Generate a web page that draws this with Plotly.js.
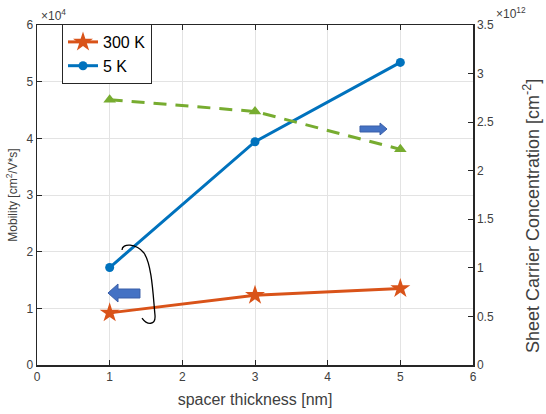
<!DOCTYPE html>
<html><head><meta charset="utf-8">
<script src="https://cdn.plot.ly/plotly-3.0.1.min.js"></script>
<style>html,body{margin:0;padding:0;background:#fff}#chart{width:546px;height:414px}</style>
</head><body><div id="chart"></div>
<script>
const thickness = [1, 3, 5];
const mobility300K = [9200, 12300, 13500];
const mobility5K = [17200, 39400, 53400];
const sheetConc = [2.73e12, 2.61e12, 2.22e12];
const leftTicks = [0, 1, 2, 3, 4, 5, 6];
const rightTicks = [0, 0.5, 1, 1.5, 2, 2.5, 3, 3.5];
const xTicks = [0, 1, 2, 3, 4, 5, 6];

const L = 37, R = 473, T = 25, B = 365;
function px(x){ return (x - L) / (R - L); }
function py(y){ return (B - y) / (B - T); }
function P(x, y){ return px(x).toFixed(4) + ',' + py(y).toFixed(4); }

const txt = '#404040';
const font = {family: 'Liberation Sans, Arial, sans-serif', size: 12, color: txt};

const traces = [
  {x: thickness, y: sheetConc, yaxis: 'y2', mode: 'lines+markers', showlegend: false,
   line: {color: '#77AC30', width: 3, dash: '13px,9px'},
   marker: {symbol: 'triangle-up', size: 11, color: '#77AC30'}},
  {x: thickness, y: mobility300K, name: '300 K', mode: 'lines+markers',
   line: {color: '#D95319', width: 3},
   marker: {symbol: 'star', size: 15, color: '#D95319'}},
  {x: thickness, y: mobility5K, name: '5 K', mode: 'lines+markers',
   line: {color: '#0072BD', width: 3},
   marker: {symbol: 'circle', size: 9, color: '#0072BD'}}
];

const leftArrow = 'M' + P(108,293) + ' L' + P(118,284) + ' L' + P(118,289) + ' L' + P(140,289) +
  ' L' + P(140,298) + ' L' + P(118,298) + ' L' + P(118,302) + ' Z';
const rightArrow = 'M' + P(387,129) + ' L' + P(380,123) + ' L' + P(380,126) + ' L' + P(360,126) +
  ' L' + P(360,132) + ' L' + P(380,132) + ' L' + P(380,135) + ' Z';
const bracket = 'M' + P(122,250) + ' C' + P(122,243) + ' ' + P(136,243) + ' ' + P(144,253) +
  ' C' + P(152,265) + ' ' + P(153,295) + ' ' + P(155,315) +
  ' C' + P(156,326) + ' ' + P(147,325) + ' ' + P(142,318);

const layout = {
  width: 546, height: 414,
  margin: {l: L, r: 546 - R, t: T, b: 414 - B},
  paper_bgcolor: '#fff', plot_bgcolor: '#fff',
  font: font,
  showlegend: true,
  legend: {x: px(62), y: py(24), xanchor: 'left', yanchor: 'top',
    bgcolor: '#fff', bordercolor: '#262626', borderwidth: 1,
    font: {family: 'Liberation Sans, Arial, sans-serif', size: 16, color: '#000'},
    itemwidth: 30, tracegroupgap: 0},
  xaxis: {range: [0, 6], tickvals: xTicks, ticktext: xTicks.map(String),
    showgrid: true, gridcolor: '#e3e3e3', gridwidth: 1, zeroline: false,
    showline: true, linecolor: '#262626', linewidth: 1.5, mirror: 'ticks',
    ticks: 'inside', ticklen: 5, tickcolor: '#262626',
    title: {text: 'spacer thickness [nm]', font: {size: 16, color: txt}, standoff: 11}},
  yaxis: {range: [0, 60000], tickvals: leftTicks.map(v => v * 1e4), ticktext: leftTicks.map(String),
    showgrid: true, gridcolor: '#e3e3e3', gridwidth: 1, zeroline: false,
    showline: true, linecolor: '#262626', linewidth: 1.5,
    ticks: 'inside', ticklen: 5, tickcolor: '#262626',
    title: {text: 'Mobility [cm<sup>2</sup>/V*s]', font: {size: 12, color: txt}, standoff: 6}},
  yaxis2: {range: [0, 3.5e12], overlaying: 'y', side: 'right',
    tickvals: rightTicks.map(v => v * 1e12), ticktext: rightTicks.map(String),
    showgrid: false, zeroline: false,
    showline: true, linecolor: '#262626', linewidth: 1.5,
    ticks: 'inside', ticklen: 5, tickcolor: '#262626'},
  shapes: [
    {type: 'path', xref: 'paper', yref: 'paper', path: leftArrow, fillcolor: '#4472C4', line: {color: '#3A5FA8', width: 1}},
    {type: 'path', xref: 'paper', yref: 'paper', path: rightArrow, fillcolor: '#4472C4', line: {color: '#3A5FA8', width: 1}},
    {type: 'path', xref: 'paper', yref: 'paper', path: bracket, line: {color: '#000', width: 1.3}}
  ],
  annotations: [
    {xref: 'paper', yref: 'paper', x: px(39), y: py(15), xanchor: 'left', yanchor: 'middle',
     text: '×10<sup>4</sup>', showarrow: false, font: {size: 12, color: txt}},
    {xref: 'paper', yref: 'paper', x: px(494), y: py(13), xanchor: 'left', yanchor: 'middle',
     text: '×10<sup>12</sup>', showarrow: false, font: {size: 12, color: txt}},
    {xref: 'paper', yref: 'paper', x: px(531), y: py(216), xanchor: 'center', yanchor: 'middle',
     textangle: -90, text: 'Sheet Carrier Concentration [cm<sup>-2</sup>]', showarrow: false,
     font: {size: 18, color: txt}}
  ]
};

Plotly.newPlot('chart', traces, layout, {displayModeBar: false, staticPlot: true});
</script></body></html>
